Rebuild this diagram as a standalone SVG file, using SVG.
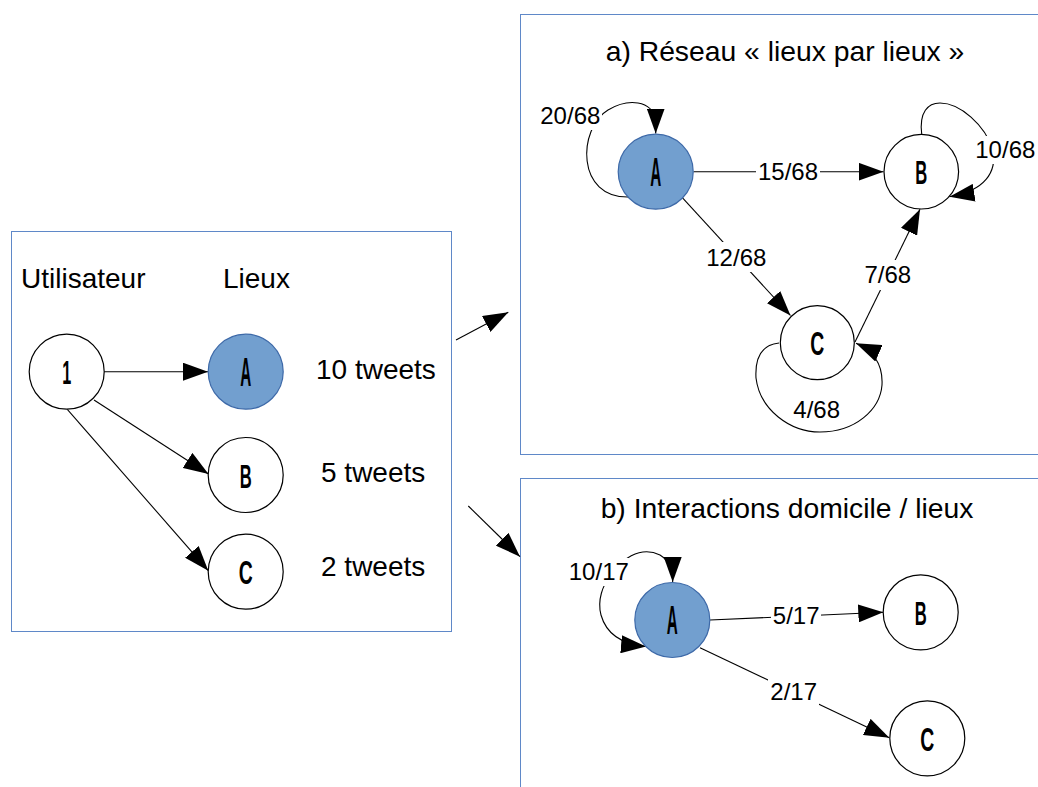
<svg xmlns="http://www.w3.org/2000/svg" width="1038" height="787" viewBox="0 0 1038 787">
<style>
.panel{fill:none;stroke:#5f88c8;stroke-width:1}
.node{fill:#fff;stroke:#000;stroke-width:1.2}
.nodeA{fill:#729fcf;stroke:#3d69a8;stroke-width:1.2}
.lt{font-family:"Liberation Sans",Arial,sans-serif;font-size:34px;font-weight:bold;text-anchor:middle;fill:#000}
.ltA{font-family:"Liberation Sans",Arial,sans-serif;font-size:40px;font-weight:bold;text-anchor:middle;fill:#000}
.t{font-family:"Liberation Sans",Arial,sans-serif;font-size:28px;fill:#000}
.tt{font-family:"Liberation Sans",Arial,sans-serif;font-size:28.3px;fill:#000;text-anchor:middle}
.el{font-family:"Liberation Sans",Arial,sans-serif;font-size:24px;fill:#000;text-anchor:middle}
.bg{fill:#fff;stroke:none}
.e{fill:none;stroke:#000;stroke-width:1.1;marker-end:url(#ah)}
</style>
<defs>
<marker id="ah" viewBox="0 0 25 18" markerWidth="25" markerHeight="18" refX="25" refY="9" orient="auto-start-reverse" markerUnits="userSpaceOnUse"><path d="M0,0 L25,9 L0,18 z" fill="#000"/></marker>
</defs>
<rect width="1038" height="787" fill="#fff"/>
<g id="panels">
<rect class="panel" x="11.5" y="231.5" width="440" height="400"/>
<rect class="panel" x="520.5" y="14.5" width="600" height="440"/>
<rect class="panel" x="520.5" y="478.5" width="600" height="400"/>
</g>
<g id="titles">
<text class="t" x="21" y="288">Utilisateur</text>
<text class="t" x="223" y="288">Lieux</text>
<text class="t" x="316" y="379">10 tweets</text>
<text class="t" x="321" y="482">5 tweets</text>
<text class="t" x="321" y="576">2 tweets</text>
<text class="tt" x="785" y="61">a) Réseau « lieux par lieux »</text>
<text class="tt" x="787" y="518">b) Interactions domicile / lieux</text>
</g>
<g id="connectors">
<line class="e" x1="104" y1="371.7" x2="208" y2="371.7"/>
<line class="e" x1="94" y1="400" x2="208.5" y2="474"/>
<line class="e" x1="67.3" y1="409.3" x2="208.3" y2="570.7"/>
<line class="e" x1="456" y1="340" x2="508.3" y2="312.3"/>
<line class="e" x1="468.3" y1="506" x2="520" y2="556.7"/>
<line class="e" x1="693.5" y1="171.7" x2="883.5" y2="171.7"/>
<line class="e" x1="682.3" y1="197.7" x2="790.5" y2="315.5"/>
<line class="e" x1="855" y1="342" x2="920" y2="209.3"/>
<path class="e" d="M630,197 C575,199 578,128 608,110 C628,98 652,100 655.7,120 L655.7,133.5"/>
<path class="e" d="M921.7,134 C919,112 928,103 940,103 C960,103 985,125 993,150 C997,172 985,191 949.5,196.7"/>
<path class="e" d="M779,343 C760,345 755,360 756,378 C760,410 790,432 820,432 C855,432 880,410 882,385 C883,366 876,352 856,343.3"/>
<line class="e" x1="710" y1="620" x2="883.3" y2="612.3"/>
<line class="e" x1="700" y1="647.7" x2="889.3" y2="737.7"/>
<path class="e" style="marker-start:url(#ah)" d="M646,646.5 C630,645 608,640 601,615 C597,600 603,585 610,576 C620,560 640,545 660,555 C668,560 672.7,570 672.7,582"/>
</g>
<g id="edge-labels">
<rect class="bg" x="756" y="158" width="64" height="28"/><text class="el" x="788" y="180">15/68</text>
<rect class="bg" x="704" y="242" width="64" height="30"/><text class="el" x="736.3" y="265.7">12/68</text>
<rect class="bg" x="863" y="260" width="50" height="30"/><text class="el" x="887.8" y="283.3">7/68</text>
<rect class="bg" x="538" y="102" width="64" height="28"/><text class="el" x="570.3" y="124.3">20/68</text>
<rect class="bg" x="973" y="136" width="64" height="28"/><text class="el" x="1005.3" y="158.3">10/68</text>
<text class="el" x="816.7" y="418.3">4/68</text>
<rect class="bg" x="771" y="602" width="50" height="28"/><text class="el" x="796.2" y="624.3">5/17</text>
<rect class="bg" x="768" y="677" width="51" height="30"/><text class="el" x="793.7" y="700">2/17</text>
<rect class="bg" x="567" y="558" width="64" height="28"/><text class="el" x="598.8" y="580">10/17</text>
</g>
<g id="node-1"><circle class="node" cx="66.7" cy="371.7" r="37.5"/><text class="lt" x="66.7" y="384" textLength="9" lengthAdjust="spacingAndGlyphs">1</text></g>
<g id="node-A-left"><circle class="nodeA" cx="245.7" cy="371.7" r="37.5"/><text class="ltA" x="245.7" y="386" textLength="11" lengthAdjust="spacingAndGlyphs">A</text></g>
<g id="node-B-left"><circle class="node" cx="245.7" cy="475" r="37.5"/><text class="lt" x="245.7" y="487.5" textLength="12" lengthAdjust="spacingAndGlyphs">B</text></g>
<g id="node-C-left"><circle class="node" cx="245.7" cy="571.7" r="37.5"/><text class="lt" x="245.7" y="584" textLength="14" lengthAdjust="spacingAndGlyphs">C</text></g>
<g id="node-A-a"><circle class="nodeA" cx="655.7" cy="171.7" r="37.5"/><text class="ltA" x="655.7" y="186" textLength="11" lengthAdjust="spacingAndGlyphs">A</text></g>
<g id="node-B-a"><circle class="node" cx="921.3" cy="171.7" r="37.3"/><text class="lt" x="921.3" y="184" textLength="12" lengthAdjust="spacingAndGlyphs">B</text></g>
<g id="node-C-a"><circle class="node" cx="817.3" cy="342.7" r="37"/><text class="lt" x="817.3" y="355" textLength="14" lengthAdjust="spacingAndGlyphs">C</text></g>
<g id="node-A-b"><circle class="nodeA" cx="672.3" cy="620" r="37.5"/><text class="ltA" x="672.3" y="634" textLength="11" lengthAdjust="spacingAndGlyphs">A</text></g>
<g id="node-B-b"><circle class="node" cx="920.7" cy="612.3" r="37.5"/><text class="lt" x="920.7" y="624.5" textLength="12" lengthAdjust="spacingAndGlyphs">B</text></g>
<g id="node-C-b"><circle class="node" cx="927.3" cy="738.3" r="37.5"/><text class="lt" x="927.3" y="750.5" textLength="14" lengthAdjust="spacingAndGlyphs">C</text></g>
</svg>
